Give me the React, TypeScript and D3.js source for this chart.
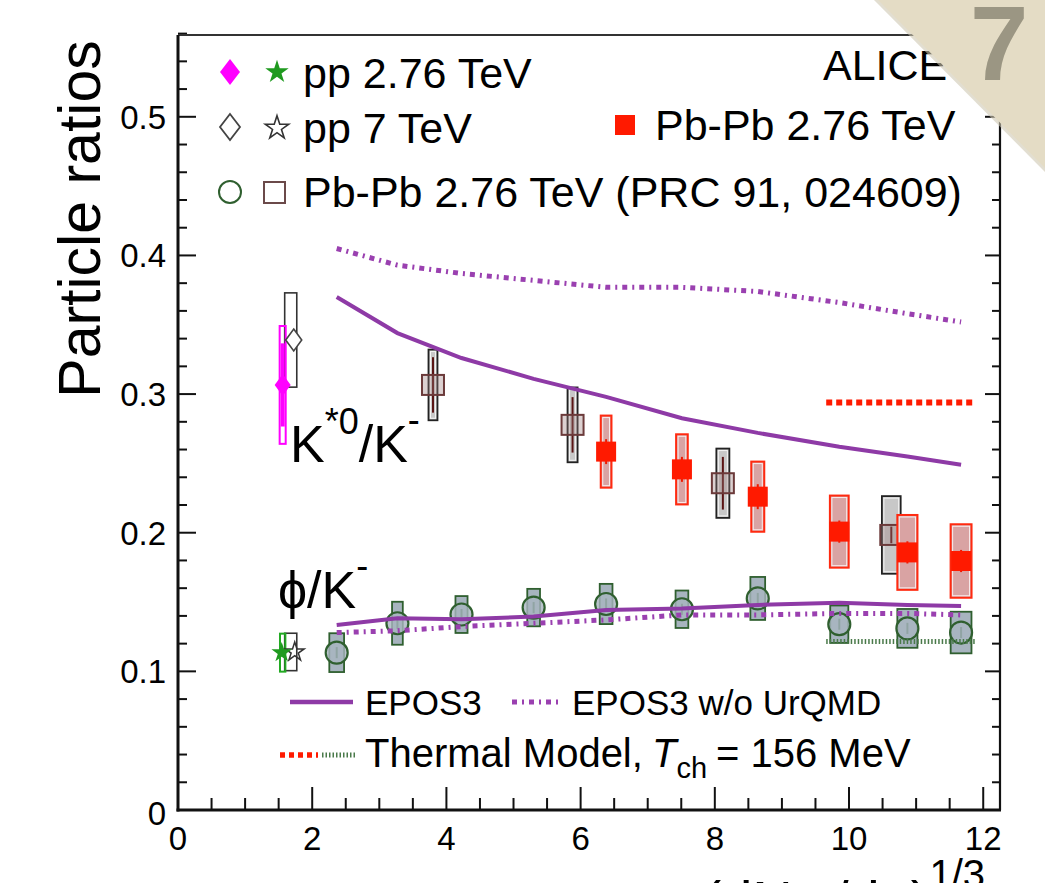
import React from 'react';
import * as d3 from 'd3';

// ---------- data ----------
const binX = [2.365, 3.27, 4.225, 5.3, 6.38, 7.51, 8.64, 9.855, 10.87, 11.67];
const binHalfW = [0.11, 0.08, 0.09, 0.095, 0.095, 0.095, 0.11, 0.135, 0.15, 0.155];

const phiPbPbY = [0.1135, 0.1347, 0.141, 0.146, 0.1486, 0.1448, 0.1526, 0.134, 0.131, 0.128];
const phiPbPbSys = [0.014, 0.0155, 0.0133, 0.0135, 0.0145, 0.0135, 0.0155, 0.0135, 0.014, 0.015];
const phiPbPbStat = [0.004, 0.004, 0.004, 0.004, 0.004, 0.004, 0.004, 0.004, 0.004, 0.004];

const kstarNewX = [6.38, 7.51, 8.64, 9.855, 10.87, 11.67];
const kstarNewY = [0.2585, 0.2457, 0.226, 0.2008, 0.1858, 0.1796];
const kstarNewSys = [0.026, 0.0253, 0.0253, 0.026, 0.027, 0.0265];
const kstarNewStat = [0.009, 0.009, 0.009, 0.008, 0.008, 0.008];
const kstarNewHalfW = [0.08, 0.087, 0.097, 0.14, 0.15, 0.156];

const kstarOldX = [3.8, 5.88, 8.12, 10.63];
const kstarOldY = [0.3066, 0.2778, 0.2357, 0.1984];
const kstarOldSys = [0.0255, 0.027, 0.025, 0.028];
const kstarOldStat = [0.02, 0.02, 0.019, 0.006];
const kstarOldHalfW = [0.067, 0.075, 0.097, 0.14];

const pp276X = 1.56;
const pp7X = 1.68;
const kstarPP276 = { y: 0.3066, sys: 0.0425, stat: 0.03, hw: 0.045 };
const kstarPP7 = { y: 0.339, sys: 0.034, stat: 0.01, hw: 0.09 };
const phiPP276 = { y: 0.1135, sys: 0.0137, stat: 0.005, hw: 0.04 };
const phiPP7 = { y: 0.114, sys: 0.0135, stat: 0.004, hw: 0.09 };

const eposKstar = [0.37, 0.344, 0.326, 0.311, 0.298, 0.2826, 0.272, 0.262, 0.255, 0.249];
const eposKstarNoUrqmd = [0.405, 0.393, 0.387, 0.382, 0.377, 0.377, 0.374, 0.366, 0.358, 0.352];
const eposPhi = [0.1335, 0.1383, 0.1375, 0.1395, 0.1443, 0.1454, 0.1479, 0.1495, 0.1479, 0.1472];
const eposPhiNoUrqmd = [0.128, 0.1293, 0.1323, 0.1347, 0.1371, 0.1407, 0.1407, 0.1418, 0.1418, 0.1407];

const thermalRange = [9.66, 11.88];
const thermalKstar = 0.294;
const thermalPhi = 0.1215;

const xTicks = [0, 2, 4, 6, 8, 10, 12];
const yTicks = [0, 0.1, 0.2, 0.3, 0.4, 0.5];

// ---------- layout ----------
const W = 1045;
const H = 883;
const FONT = '"Liberation Sans", Arial, Helvetica, sans-serif';

const x = d3.scaleLinear().domain([0, 12.25]).range([178, 1000]);
const y = d3.scaleLinear().domain([0, 0.559]).range([810, 35]);

const PURPLE = '#8e3aa6';
const PURPLE2 = '#9a40b0';
const GREEN_DK = '#2f5f2f';

const diamond = (w: number, h: number) => `M0,${-h}L${w},0L0,${h}L${-w},0Z`;
const star = (size: number) => d3.symbol().type(d3.symbolStar).size(size)() as string;

function SysBox({ cx, cy, hw, sys, stroke, fill, sw = 2, inner = true }: any) {
  const x0 = x(cx - hw);
  const x1 = x(cx + hw);
  const y0 = y(cy + sys);
  const y1 = y(cy - sys);
  return (
    <g>
      <rect x={x0} y={y0} width={x1 - x0} height={y1 - y0} fill={fill} stroke={stroke} strokeWidth={sw} />
      {inner && x1 - x0 > 6 ? (
        <rect x={x0 + 2} y={y0 + 2} width={x1 - x0 - 4} height={y1 - y0 - 4} fill="none" stroke="#fff" strokeWidth={1} opacity={0.8} />
      ) : null}
    </g>
  );
}

function StatBar({ cx, cy, stat, color, sw = 2 }: any) {
  return <line x1={x(cx)} x2={x(cx)} y1={y(cy + stat)} y2={y(cy - stat)} stroke={color} strokeWidth={sw} />;
}

export default function App() {
  const lineGen = (vals: number[]) =>
    d3
      .line<number>()
      .x((_, i) => x(binX[i]))
      .y((d) => y(d))(vals) as string;

  const yMinor = d3.range(0, 0.5601, 0.02);
  const xMinor = d3.range(0, 12.01, 0.5);

  return (
    <svg width={W} height={H} style={{ position: 'absolute', left: 0, top: 0, background: '#fff' }} fontFamily={FONT}>
      <rect width={W} height={H} fill="#fff" />

      {/* ---------- data: pp ---------- */}
      <SysBox cx={pp7X} cy={kstarPP7.y} hw={kstarPP7.hw} sys={kstarPP7.sys} stroke="#333" fill="#fff" sw={1.6} inner={false} />
      <SysBox cx={pp7X} cy={phiPP7.y} hw={phiPP7.hw} sys={phiPP7.sys} stroke="#333" fill="#fff" sw={1.6} inner={false} />
      <SysBox cx={pp276X} cy={kstarPP276.y} hw={kstarPP276.hw} sys={kstarPP276.sys} stroke="#ff00ff" fill="none" sw={2} inner={false} />
      <SysBox cx={pp276X} cy={phiPP276.y} hw={phiPP276.hw} sys={phiPP276.sys} stroke="#22aa22" fill="none" sw={2} inner={false} />
      <StatBar cx={pp276X} cy={kstarPP276.y} stat={kstarPP276.stat} color="#ff00ff" sw={4} />
      <path d={diamond(8, 11)} transform={`translate(${x(pp7X) + 3},${y(kstarPP7.y)})`} fill="#fff" stroke="#444" strokeWidth={1.6} />
      <path d={diamond(8, 11)} transform={`translate(${x(pp276X)},${y(kstarPP276.y)})`} fill="#ff00ff" />
      <path d={star(110)} transform={`translate(${x(pp7X) + 4},${y(phiPP7.y)})`} fill="none" stroke="#333" strokeWidth={1.5} />
      <path d={star(130)} transform={`translate(${x(pp276X) - 1},${y(phiPP276.y)})`} fill="#1f9a1f" />

      {/* ---------- data: phi/K Pb-Pb ---------- */}
      {binX.map((bx, i) => (
        <g key={'phi' + i}>
          <SysBox cx={bx} cy={phiPbPbY[i]} hw={binHalfW[i]} sys={phiPbPbSys[i]} stroke={GREEN_DK} fill="#a7b4bf" sw={1.8} inner={false} />
          <StatBar cx={bx} cy={phiPbPbY[i]} stat={phiPbPbStat[i]} color={GREEN_DK} />
          <circle cx={x(bx)} cy={y(phiPbPbY[i])} r={11} fill="#a9b5c0" fillOpacity={0.8} stroke={GREEN_DK} strokeWidth={2.2} />
        </g>
      ))}

      {/* ---------- data: K*0/K Pb-Pb (PRC 91) ---------- */}
      {kstarOldX.map((kx, i) => (
        <g key={'ko' + i}>
          <SysBox cx={kx} cy={kstarOldY[i]} hw={kstarOldHalfW[i]} sys={kstarOldSys[i]} stroke="#222" fill="#c8c8c8" sw={1.8} />
          <StatBar cx={kx} cy={kstarOldY[i]} stat={kstarOldStat[i]} color="#5a1414" />
          <rect x={x(kx) - 11} y={y(kstarOldY[i]) - 10} width={22} height={20} fill="#9a7a7a" fillOpacity={0.35} stroke="#6b3a3a" strokeWidth={2} />
        </g>
      ))}

      {/* ---------- data: K*0/K Pb-Pb new ---------- */}
      {kstarNewX.map((kx, i) => (
        <g key={'kn' + i}>
          <SysBox cx={kx} cy={kstarNewY[i]} hw={kstarNewHalfW[i]} sys={kstarNewSys[i]} stroke="#ff2a10" fill="#d9a3a3" sw={2} />
          <StatBar cx={kx} cy={kstarNewY[i]} stat={kstarNewStat[i]} color="#ee1a00" />
          <rect x={x(kx) - 10} y={y(kstarNewY[i]) - 10} width={20} height={20} fill="#ff1a00" />
        </g>
      ))}

      {/* ---------- models ---------- */}
      <path d={lineGen(eposKstar)} fill="none" stroke={PURPLE} strokeWidth={4} />
      <path d={lineGen(eposPhi)} fill="none" stroke={PURPLE} strokeWidth={4} />
      <path d={lineGen(eposKstarNoUrqmd)} fill="none" stroke={PURPLE2} strokeWidth={5} strokeDasharray="5 5 2 5" />
      <path d={lineGen(eposPhiNoUrqmd)} fill="none" stroke={PURPLE2} strokeWidth={5} strokeDasharray="5 5 2 5" />
      <line x1={x(thermalRange[0])} x2={x(thermalRange[1])} y1={y(thermalKstar)} y2={y(thermalKstar)} stroke="#ff1a00" strokeWidth={6} strokeDasharray="6 4" />
      <line x1={x(thermalRange[0])} x2={x(thermalRange[1])} y1={y(thermalPhi)} y2={y(thermalPhi)} stroke="#4a7a4a" strokeWidth={5} strokeDasharray="1.5 2" />

      {/* ---------- frame & ticks ---------- */}
      <g stroke="#111">
        {yMinor.map((v, i) => {
          const major = i % 5 === 0;
          return (
            <g key={'yt' + i}>
              <line x1={x(0)} x2={x(0) + (major ? 18 : 9)} y1={y(v)} y2={y(v)} strokeWidth={2} />
              <line x1={1000} x2={1000 - (major ? 15 : 8)} y1={y(v)} y2={y(v)} strokeWidth={2} />
            </g>
          );
        })}
        {xMinor.map((v, i) => {
          const major = i % 4 === 0;
          return <line key={'xt' + i} x1={x(v)} x2={x(v)} y1={y(0)} y2={y(0) - (major ? 23 : 12)} strokeWidth={2} />;
        })}
        <line x1={x(0)} x2={1000} y1={35} y2={35} strokeWidth={2} stroke="#333" />
        <line x1={1000} x2={1000} y1={35} y2={y(0)} strokeWidth={2.2} />
        <line x1={x(0)} x2={x(0)} y1={35} y2={y(0) + 1.5} strokeWidth={3} />
        <line x1={x(0) - 1.5} x2={1001} y1={y(0)} y2={y(0)} strokeWidth={3} />
      </g>

      {/* tick labels */}
      <g fontSize={33} fill="#000">
        {yTicks.map((v) => (
          <text key={'yl' + v} x={166} y={y(v) + (v === 0 ? 15 : 12)} textAnchor="end">
            {v === 0 ? '0' : d3.format('.1f')(v)}
          </text>
        ))}
        {xTicks.map((v) => (
          <text key={'xl' + v} x={x(v)} y={850} textAnchor="middle">
            {v}
          </text>
        ))}
      </g>

      {/* axis titles */}
      <text transform="translate(100,219) rotate(-90)" textAnchor="middle" fontSize={59}>
        Particle ratios
      </text>
      <text x={985} y={920} textAnchor="end" fontSize={56}>
        (dN
        <tspan fontSize={38} dy={12}>ch</tspan>
        <tspan dy={-12}>/dη)</tspan>
        <tspan fontSize={40} dy={-32}>1/3</tspan>
      </text>

      {/* in-plot labels */}
      <text x={290} y={462} fontSize={52}>
        K<tspan fontSize={36} dy={-28}>*0</tspan>
        <tspan dy={28}>/K</tspan>
        <tspan fontSize={36} dy={-30}>-</tspan>
      </text>
      <text x={278} y={608} fontSize={52}>
        ϕ/K<tspan fontSize={36} dy={-30}>-</tspan>
      </text>

      {/* top legend */}
      <g fontSize={43}>
        <path d={diamond(10, 13)} transform="translate(230,72)" fill="#ff00ff" />
        <path d={star(170)} transform="translate(277,72)" fill="#1f9a1f" />
        <text x={303} y={88}>pp 2.76 TeV</text>

        <path d={diamond(10, 13)} transform="translate(230,127)" fill="#fff" stroke="#444" strokeWidth={1.8} />
        <path d={star(170)} transform="translate(277,128)" fill="none" stroke="#333" strokeWidth={1.6} />
        <text x={303} y={143}>pp 7 TeV</text>

        <circle cx={230} cy={192} r={11} fill="none" stroke={GREEN_DK} strokeWidth={2} />
        <rect x={264} y={182} width={21} height={21} fill="none" stroke="#6b4a4a" strokeWidth={2} />
        <text x={303} y={207}>Pb-Pb 2.76 TeV (PRC 91, 024609)</text>

        <text x={823} y={80}>ALICE</text>
        <rect x={615} y={115} width={20} height={20} fill="#ff1a00" />
        <text x={655} y={140}>Pb-Pb 2.76 TeV</text>
      </g>

      {/* bottom legend */}
      <g fontSize={35}>
        <line x1={290} x2={353} y1={702} y2={702} stroke={PURPLE} strokeWidth={4.5} />
        <text x={365} y={715}>EPOS3</text>
        <line x1={512} x2={560} y1={702} y2={702} stroke={PURPLE2} strokeWidth={5} strokeDasharray="5 5 2 5" />
        <text x={572} y={715}>EPOS3 w/o UrQMD</text>

        <line x1={280} x2={318} y1={755} y2={755} stroke="#ff1a00" strokeWidth={5.5} strokeDasharray="5 4" />
        <line x1={322} x2={357} y1={755} y2={755} stroke="#4a7a4a" strokeWidth={5} strokeDasharray="1.5 2" />
        <text x={365} y={767} fontSize={40}>
          Thermal Model,
          <tspan x={652} fontStyle="italic">T</tspan>
          <tspan fontSize={29} dy={11}>ch</tspan>
          <tspan x={716} dy={-11}>= 156 MeV</tspan>
        </text>
      </g>

      {/* corner badge */}
      <polygon points="874,0 1045,0 1045,172" fill="#cfc8b2" opacity={0.6} />
      <polygon points="878,0 1045,0 1045,168" fill="#e4dcc5" />
      <text x={970} y={80} fontSize={105} fontWeight="bold" fill="#9b9683">
        7
      </text>
    </svg>
  );
}
